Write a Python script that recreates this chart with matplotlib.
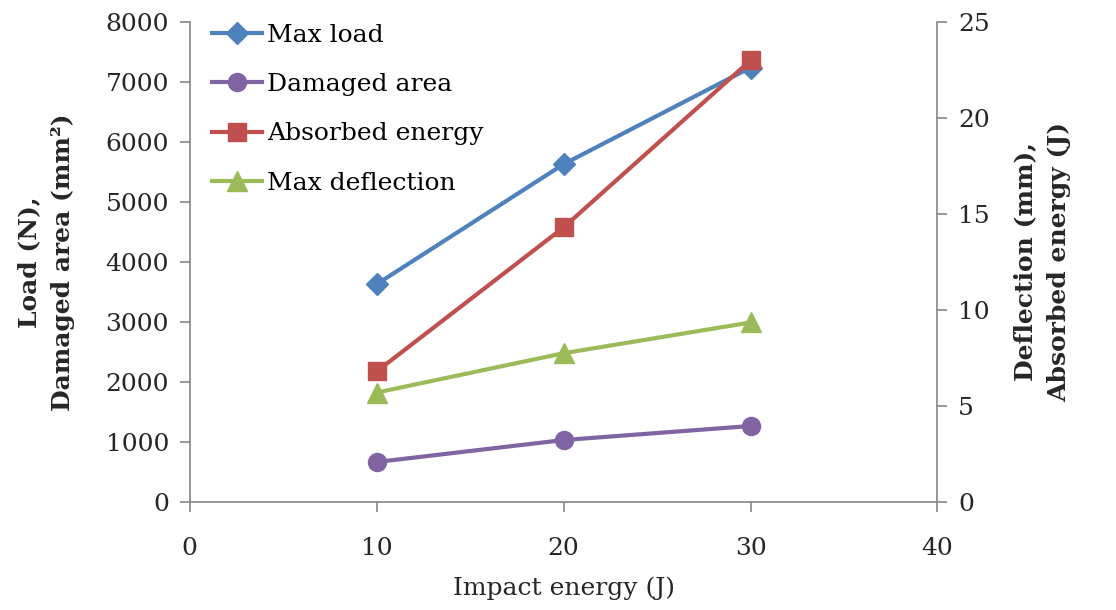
import matplotlib
matplotlib.use("Agg")
import matplotlib.pyplot as plt

# impact test results
impact_energy = [10, 20, 30]
max_load = [3630, 5630, 7240]          # N, left axis
damaged_area = [667, 1033, 1267]       # mm^2, left axis
absorbed_energy = [6.8, 14.3, 23.0]    # J, right axis
max_deflection = [5.7, 7.75, 9.35]     # mm, right axis

x_ticks = [0, 10, 20, 30, 40]
left_ticks = [0, 1000, 2000, 3000, 4000, 5000, 6000, 7000, 8000]
right_ticks = [0, 5, 10, 15, 20, 25]

plt.rcParams['font.family'] = ['DejaVu Serif']
gray = '#868686'

fig = plt.figure(figsize=(11.16, 6.10), dpi=100)
ax = fig.add_axes([0.170, 0.177, 0.670, 0.787])
ax2 = ax.twinx()

lw = 3
l1, = ax.plot(impact_energy, max_load, color='#4F81BD', lw=lw, marker='D', ms=11)
l2, = ax.plot(impact_energy, damaged_area, color='#8064A2', lw=lw, marker='o', ms=13)
l3, = ax2.plot(impact_energy, absorbed_energy, color='#C0504D', lw=lw, marker='s', ms=13)
l4, = ax2.plot(impact_energy, max_deflection, color='#9BBB59', lw=lw, marker='^', ms=14)

ax.set_xlim(0, 40)
ax.set_ylim(0, 8000)
ax2.set_ylim(0, 25)
ax.set_xticks(x_ticks)
ax.set_yticks(left_ticks)
ax2.set_yticks(right_ticks)

for a in (ax, ax2):
    a.spines['top'].set_visible(False)
    for s in ('left', 'right', 'bottom'):
        a.spines[s].set_color(gray)
        a.spines[s].set_linewidth(1.2)
    a.tick_params(colors=gray, labelcolor='#262626', labelsize=18, length=7, width=1.2)
ax.spines['right'].set_visible(False)
ax2.spines['left'].set_visible(False)
ax2.spines['bottom'].set_visible(False)
ax.tick_params(axis='x', pad=18)
ax.tick_params(axis='y', pad=8)
ax2.tick_params(axis='y', pad=8)

ax.set_xlabel('Impact energy (J)', fontsize=18, color='#262626', labelpad=12)
ax.set_ylabel('Load (N),\nDamaged area (mm²)', fontsize=18, fontweight='bold',
              color='#262626', labelpad=22, linespacing=1.5)
ax2.set_ylabel('Deflection (mm),\nAbsorbed energy (J)', fontsize=18, fontweight='bold',
               color='#262626', rotation=90, labelpad=17, linespacing=1.5)

ax.legend([l1, l2, l3, l4], ['Max load', 'Damaged area', 'Absorbed energy', 'Max deflection'],
          loc='upper left', bbox_to_anchor=(0.0, 1.043), frameon=False, fontsize=18,
          handlelength=2.0, handletextpad=0.2, labelspacing=1.05)

fig.savefig('out.png', dpi=100)
